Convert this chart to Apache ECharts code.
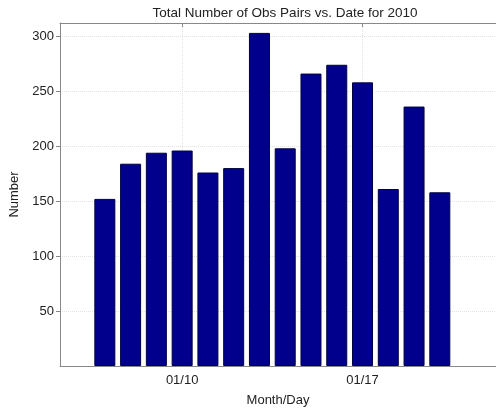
<!DOCTYPE html>
<html>
<head>
<meta charset="utf-8">
<script src="https://cdn.jsdelivr.net/npm/echarts@6/dist/echarts.min.js"></script>
<style>
html,body{margin:0;padding:0;background:#fff;}
#chart{width:496px;height:412px;}
</style>
</head>
<body>
<div id="chart"></div>
<script>
// Day of month (January 2010) for each bar
var days = [7, 8, 9, 10, 11, 12, 13, 14, 15, 16, 17, 18, 19, 20];
var counts = [152, 184, 194, 196, 176, 180, 303, 198, 266, 274, 258, 161, 236, 158];
var tickDays = [10, 17];
var tickLabels = ['01/10', '01/17'];
var yTicks = [50, 100, 150, 200, 250, 300];

var font = 'Liberation Sans, Arial, sans-serif';
var chart = echarts.init(document.getElementById('chart'));
var barData = days.map(function (d, i) { return [d, counts[i]]; });

chart.setOption({
  animation: false,
  backgroundColor: '#ffffff',
  title: {
    text: 'Total Number of Obs Pairs vs. Date for 2010',
    left: 280, textAlign: 'center', top: 1,
    textStyle: { fontFamily: font, fontSize: 13.5, fontWeight: 'normal', color: '#222' }
  },
  grid: { left: 60, top: 23, width: 440, height: 348 },
  xAxis: [{
    type: 'value', min: 5.26, max: 22.18,
    name: 'Month/Day', nameLocation: 'middle', nameGap: 28,
    nameTextStyle: { fontFamily: font, fontSize: 13, color: '#222' },
    axisLine: { show: true, lineStyle: { color: '#888', width: 1 } },
    axisTick: { show: true, inside: true, length: 4, customValues: tickDays, lineStyle: { color: '#888' } },
    axisLabel: {
      customValues: tickDays, margin: 8,
      fontFamily: font, fontSize: 13, color: '#222',
      formatter: function (v) { var i = tickDays.indexOf(Math.round(v)); return i >= 0 ? tickLabels[i] : ''; }
    },
    splitLine: { show: true, lineStyle: { color: '#e2e2e2', type: 'dotted', width: 1 } }
  }, {
    type: 'value', position: 'top', min: 5.26, max: 22.18,
    axisLine: { show: true, lineStyle: { color: '#888', width: 1 } },
    axisTick: { show: true, inside: true, length: 4, customValues: tickDays, lineStyle: { color: '#888' } },
    axisLabel: { show: false },
    splitLine: { show: false }
  }],
  yAxis: {
    type: 'value', min: 0, max: 312,
    name: 'Number', nameLocation: 'middle', nameGap: 34,
    nameTextStyle: { fontFamily: font, fontSize: 13, color: '#222' },
    axisLine: { show: true, lineStyle: { color: '#888', width: 1 } },
    axisTick: { show: true, inside: false, length: 4, customValues: yTicks, lineStyle: { color: '#888' } },
    axisLabel: {
      customValues: yTicks,
      fontFamily: font, fontSize: 13, color: '#222', margin: 6
    },
    splitLine: { show: true, lineStyle: { color: '#e2e2e2', type: 'dotted', width: 1 } }
  },
  series: [{
    type: 'bar', xAxisIndex: 0, data: barData, barWidth: 21,
    itemStyle: { color: '#00008c', borderColor: '#000040', borderWidth: 1 }
  }]
});
</script>
</body>
</html>
